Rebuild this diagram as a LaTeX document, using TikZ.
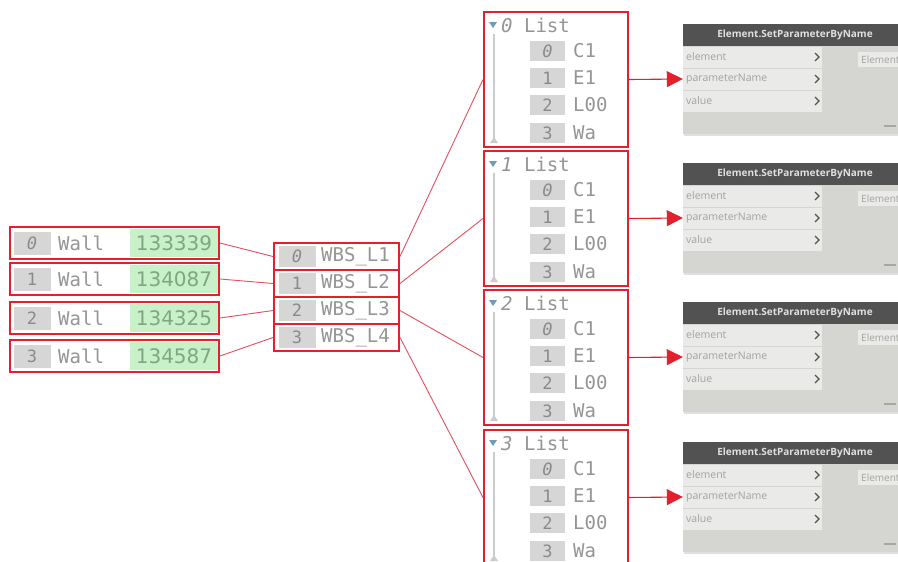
\documentclass[tikz,border=0pt]{standalone}
\usepackage{fontspec}
\setmonofont{DejaVu Sans Mono}
\setsansfont{Open Sans}
\newfontfamily\numfont{DejaVu Sans}
\usetikzlibrary{arrows.meta}
\definecolor{boxred}{HTML}{E3202B}
\definecolor{linered}{HTML}{E2505E}
\definecolor{idxgray}{HTML}{D6D6D6}
\definecolor{idxtxt}{HTML}{8A8A8A}
\definecolor{txtgray}{HTML}{959595}
\definecolor{greenbg}{HTML}{C9F1C9}
\definecolor{greentxt}{HTML}{7FA67F}
\definecolor{hdrgray}{HTML}{525252}
\definecolor{panelL}{HTML}{EAEAE8}
\definecolor{panelR}{HTML}{D5D5D1}
\definecolor{porttxt}{HTML}{A2A2A2}
\definecolor{scrollgray}{HTML}{CBCBCB}
\definecolor{tribl}{HTML}{6F9DB5}
\tikzset{
  redbox/.style={draw=boxred, line width=2pt, inner sep=0pt, fill=none},
  idxbox/.style={fill=idxgray, inner sep=0pt, text=idxtxt, font=\ttfamily\fontsize{17}{17}\selectfont},
  monotxt/.style={inner sep=0pt, anchor=west, text=txtgray, font=\ttfamily\fontsize{19}{19}\selectfont},
  numtxt/.style={inner sep=0pt, text=greentxt, font=\numfont\fontsize{20}{20}\selectfont},
  conn/.style={draw=linered, line width=0.9pt},
  arrowconn/.style={draw=boxred, line width=1.1pt, -{Triangle[length=16pt,width=16pt]}},
  inport/.style={fill=panelL, inner sep=0pt, minimum width=139, minimum height=21},
  porttext/.style={inner sep=0pt, anchor=west, text=porttxt, font=\sffamily\fontsize{10.5}{10.5}\selectfont},
  hdrtext/.style={inner sep=0pt, text=white!88!black, font=\sffamily\bfseries\fontsize{10}{10}\selectfont},
  chev/.style={draw=hdrgray, line width=1.2pt},
}
\begin{document}
\begin{tikzpicture}[x=1pt,y=-1pt]
\useasboundingbox (0,0) rectangle (898,562);
\clip (0,0) rectangle (898,562);
\fill[white] (0,0) rectangle (898,562);

% ---------- left list (Wall ids) ----------
\foreach \i/\y/\num in {0/243/133339,1/279/134087,2/318/134325,3/356/134587}{
  \fill[greenbg] (130,\y-14) rectangle (218,\y+14);
  \node[idxbox, minimum width=37, minimum height=23] at (32,\y) {\ifnum\i=0 \itshape\fi\i};
  \node[monotxt] at (58,\y) {Wall};
  \node[numtxt] at (174,\y) {\num};
  \node[redbox, minimum width=209, minimum height=32] (w\i) at (114.5,\y) {};
}

% ---------- middle list (WBS) ----------
\foreach \i/\y in {0/256.5,1/283.5,2/310.5,3/337.5}{
  \node[idxbox, minimum width=37, minimum height=21] at (297,\y) {\ifnum\i=0 \itshape\fi\i};
  \node[monotxt] at (321,\y) {WBS\_L\the\numexpr\i+1\relax};
  \node[redbox, minimum width=125, minimum height=27] (m\i) at (336.5,\y) {};
}

% ---------- right lists ----------
\foreach \i/\t in {0/12,1/151,2/290,3/430}{
  \draw[scrollgray, line width=1.6pt] (494,\t+22) -- (494,\t+128);
  \fill[scrollgray] (490,\t+131) -- (498,\t+131) -- (494,\t+125) -- cycle;
  \fill[tribl] (489,\t+10) -- (497,\t+10) -- (493,\t+16) -- cycle;
  \node[monotxt] at (501,\t+13) {{\itshape\i} List};
  \foreach \j/\o/\lab in {0/39/C1,1/66/E1,2/93/L00,3/121/Wa}{
    \node[idxbox, minimum width=35, minimum height=20] at (547.5,\t+\o) {\ifnum\j=0 \itshape\fi\j};
    \node[monotxt] at (573,\t+\o) {\lab};
  }
  \node[redbox, minimum width=144, minimum height=135] (L\i) at (556,\t+67.5) {};
}

% ---------- Dynamo nodes ----------
\foreach \i/\t in {0/12,1/151,2/290,3/430}{
  \fill[black!12] (684,\t+13) rectangle (912,\t+124);
  \fill[panelR] (683,\t+12) rectangle (910,\t+122);
  \fill[hdrgray] (683,\t+12) rectangle (910,\t+34);
  \node[hdrtext] at (795,\t+23) {Element.SetParameterByName};
  \node[inport] (E\i) at (752.5,\t+45) {};
  \node[inport] (P\i) at (752.5,\t+67) {};
  \node[inport] (V\i) at (752.5,\t+89) {};
  \node[porttext] at (686,\t+45) {element};
  \node[porttext] at (686,\t+67) {parameterName};
  \node[porttext] at (686,\t+89) {value};
  \foreach \o in {45,67,89}{
    \draw[chev] (815,\t+\o-4) -- (819,\t+\o) -- (815,\t+\o+4);
  }
  \fill[panelL] (858,\t+40) rectangle (910,\t+55);
  \node[porttext, font=\sffamily\fontsize{10}{10}\selectfont] at (861,\t+47.5) {Element};
  \fill[black!35] (884,\t+113) rectangle (896,\t+114.5);
  \draw[arrowconn] (L\i.east) -- (P\i.west);
}

% ---------- connectors ----------
\foreach \i in {0,1,2,3}{
  \draw[conn] (w\i.east) -- (m\i.west);
  \draw[conn] (m\i.east) -- (L\i.west);
}
\end{tikzpicture}
\end{document}
